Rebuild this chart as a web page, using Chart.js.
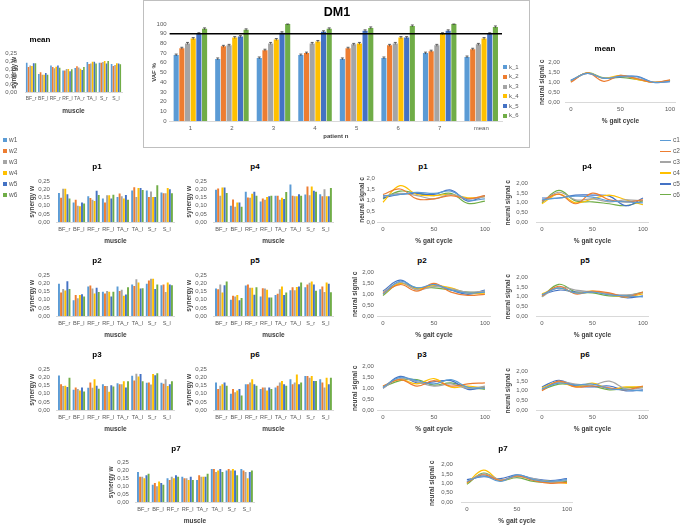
<!DOCTYPE html>
<html><head><meta charset="utf-8">
<script src="https://cdn.jsdelivr.net/npm/chart.js@4.4.0/dist/chart.umd.min.js"></script>
<style>
body{margin:0;width:685px;height:526px;background:#fff;position:relative;overflow:hidden;font-family:'Liberation Sans',Arial,sans-serif;}
canvas{position:absolute;}
.t{position:absolute;transform:translate(-50%,-50%);font-weight:bold;font-size:8px;color:#000;white-space:nowrap;}
.lg{position:absolute;font-size:6.5px;color:#595959;white-space:nowrap;line-height:8px;transform:translateY(-50%);}
.sq{display:inline-block;width:4px;height:4px;margin-right:2px;vertical-align:middle;}
.ln{display:inline-block;width:11px;height:1.3px;margin-right:2px;vertical-align:middle;}
#box{position:absolute;left:143px;top:0;width:385px;height:146px;border:1px solid #bfbfbf;}
</style></head><body>
<div id="box"></div>
<script>
// ---------- DATA ----------
const PATIENTS = ['1','2','3','4','5','6','7','mean'];
const K_LABELS = ['k_1','k_2','k_3','k_4','k_5','k_6'];
const VAF_K1 = [68,64,65,68,64,65,70,66];
const VAF_K2 = [75,77,73,70,75,78,72,74];
const VAF_K3 = [80,78,80,80,79,80,78,79];
const VAF_K4 = [85,86,84,82,80,86,90,85];
const VAF_K5 = [90,87,91,92,93,86,93,90];
const VAF_K6 = [95,94,100,95,96,98,100,97];
const VAF_ERR = [1,1,1,1,1,1,1,1];
const THRESHOLD = 90;

const MUSCLES = ['BF_r','BF_l','RF_r','RF_l','TA_r','TA_l','S_r','S_l'];
const W_LABELS = ['w1','w2','w3','w4','w5','w6'];
// rows = muscles, columns = w1..w6
const MEAN_W = [[0.190,0.162,0.172,0.170,0.187,0.187],[0.117,0.129,0.113,0.113,0.123,0.113],[0.172,0.163,0.155,0.165,0.172,0.158],[0.140,0.140,0.150,0.150,0.135,0.148],[0.157,0.167,0.160,0.152,0.143,0.162],[0.195,0.182,0.185,0.197,0.197,0.185],[0.190,0.190,0.195,0.202,0.185,0.202],[0.182,0.170,0.175,0.187,0.185,0.180]];
const P1_W = [[0.180,0.150,0.205,0.205,0.172,0.145],[0.120,0.138,0.100,0.097,0.120,0.115],[0.160,0.148,0.137,0.130,0.193,0.167],[0.145,0.120,0.165,0.165,0.145,0.168],[0.155,0.177,0.160,0.145,0.167,0.138],[0.195,0.215,0.155,0.210,0.210,0.198],[0.195,0.155,0.188,0.155,0.155,0.228],[0.183,0.178,0.178,0.210,0.202,0.178]];
const P4_W = [[0.200,0.208,0.163,0.213,0.213,0.180],[0.100,0.140,0.095,0.120,0.120,0.095],[0.187,0.152,0.150,0.175,0.187,0.162],[0.127,0.145,0.137,0.155,0.160,0.163],[0.162,0.162,0.137,0.150,0.142,0.185],[0.232,0.162,0.160,0.160,0.172,0.162],[0.170,0.220,0.165,0.220,0.193,0.187],[0.172,0.160,0.203,0.160,0.160,0.210]];
const P2_W = [[0.200,0.145,0.167,0.158,0.215,0.167],[0.097,0.130,0.110,0.130,0.135,0.120],[0.183,0.188,0.170,0.140,0.175,0.148],[0.150,0.140,0.155,0.150,0.120,0.150],[0.183,0.155,0.163,0.125,0.133,0.178],[0.195,0.185,0.228,0.208,0.170,0.172],[0.200,0.220,0.230,0.230,0.167,0.195],[0.190,0.195,0.148,0.208,0.195,0.190]];
const P5_W = [[0.170,0.165,0.195,0.145,0.190,0.213],[0.100,0.125,0.120,0.130,0.097,0.112],[0.188,0.195,0.175,0.175,0.132,0.178],[0.120,0.172,0.170,0.163,0.115,0.115],[0.130,0.138,0.165,0.183,0.130,0.145],[0.160,0.178,0.160,0.180,0.183,0.208],[0.178,0.195,0.205,0.213,0.195,0.157],[0.165,0.182,0.148,0.207,0.200,0.147]];
const P3_W = [[0.213,0.160,0.148,0.150,0.142,0.200],[0.125,0.140,0.130,0.120,0.140,0.115],[0.137,0.170,0.137,0.190,0.150,0.132],[0.160,0.148,0.148,0.113,0.153,0.145],[0.165,0.160,0.160,0.178,0.140,0.178],[0.212,0.183,0.225,0.208,0.222,0.178],[0.168,0.170,0.158,0.222,0.215,0.228],[0.168,0.162,0.190,0.148,0.160,0.178]];
const P6_W = [[0.170,0.130,0.150,0.160,0.170,0.150],[0.100,0.130,0.110,0.120,0.130,0.090],[0.160,0.160,0.170,0.190,0.160,0.150],[0.130,0.140,0.140,0.120,0.140,0.130],[0.140,0.150,0.170,0.180,0.160,0.150],[0.190,0.160,0.170,0.220,0.160,0.170],[0.210,0.210,0.200,0.210,0.180,0.180],[0.190,0.170,0.140,0.200,0.160,0.200]];
const P7_W = [[0.190,0.160,0.160,0.150,0.170,0.180],[0.110,0.120,0.100,0.130,0.120,0.110],[0.150,0.140,0.160,0.150,0.170,0.160],[0.160,0.150,0.150,0.140,0.160,0.140],[0.140,0.170,0.160,0.160,0.160,0.180],[0.210,0.210,0.190,0.200,0.210,0.190],[0.200,0.210,0.200,0.210,0.200,0.170],[0.210,0.200,0.190,0.150,0.190,0.200]];

const GAIT_X = [0,16.7,33.3,50,66.7,83.3,100];
const GAIT_TICKS = [0,50,100];
const C_LABELS = ['c1','c2','c3','c4','c5','c6'];
// rows = c1..c6, values along GAIT_X
const MEAN_C = [[1.10,1.45,1.20,1.30,1.28,1.00,1.05],[1.00,1.48,1.05,1.35,1.18,1.00,1.12],[1.05,1.45,1.20,1.30,1.20,1.00,1.08],[1.05,1.48,1.20,1.35,1.15,1.00,1.08],[1.10,1.45,1.20,1.28,1.30,1.00,1.03],[1.05,1.48,1.22,1.25,1.15,1.00,1.10]];
const P1_C = [[1.20,1.25,1.35,1.30,1.40,1.00,1.05],[1.25,1.50,1.05,1.05,1.20,1.05,1.20],[1.15,1.30,1.20,1.05,1.25,1.05,1.15],[0.90,1.65,1.25,1.20,1.25,1.10,1.15],[1.10,1.25,1.30,1.25,1.45,0.95,1.20],[1.05,1.40,1.30,1.20,1.30,0.85,0.95]];
const P4_C = [[1.15,1.25,1.35,1.30,1.10,1.05,1.00],[1.10,1.45,0.95,1.50,1.15,1.05,1.15],[1.05,1.55,1.15,1.20,1.05,1.15,1.10],[0.95,1.45,1.00,1.20,1.40,1.15,0.90],[1.25,1.25,1.40,1.40,1.35,0.85,1.25],[1.00,1.65,1.10,1.05,0.95,0.85,1.10]];
const P2_C = [[1.00,1.60,1.30,1.45,1.20,1.05,1.10],[1.05,1.45,1.15,1.50,1.10,0.95,1.00],[1.10,1.55,1.20,1.35,1.25,1.10,1.15],[1.00,1.50,1.25,1.40,1.30,1.05,1.05],[1.15,1.65,1.25,1.45,1.20,1.00,1.20],[0.95,1.50,1.30,1.30,1.20,1.10,1.10]];
const P5_C = [[1.10,1.45,1.20,1.25,1.10,1.05,1.00],[1.05,1.55,1.15,1.30,1.20,1.00,1.25],[1.00,1.50,1.35,1.25,1.15,1.10,1.20],[1.15,1.45,1.20,1.30,1.10,1.00,1.15],[1.10,1.35,1.25,1.25,1.15,0.95,1.05],[1.00,1.65,1.25,1.20,1.05,1.05,1.25]];
const P3_C = [[1.05,1.50,1.35,1.20,1.40,1.05,1.00],[1.10,1.40,1.10,1.35,1.10,1.20,1.25],[1.00,1.45,1.30,1.10,1.20,1.00,1.10],[1.10,1.40,1.20,1.45,1.05,1.10,1.00],[1.00,1.55,1.25,1.30,1.35,0.95,1.05],[1.05,1.35,1.40,1.15,1.25,1.05,0.95]];
const P6_C = [[1.10,1.40,1.30,1.35,1.10,1.05,1.00],[1.00,1.50,1.20,1.25,1.15,1.05,1.25],[1.05,1.45,1.35,1.30,1.50,1.10,1.15],[1.15,1.45,1.20,1.40,1.10,1.20,1.20],[1.20,1.55,1.25,1.20,1.25,1.00,1.05],[1.05,1.35,1.30,1.25,1.05,1.15,1.20]];
const P7_C = [[1.10,1.40,1.10,1.45,1.20,1.10,1.20],[1.05,1.45,1.15,1.40,1.15,1.00,1.05],[1.05,1.50,1.20,1.35,1.25,1.05,1.15],[1.00,1.70,1.15,1.40,1.20,1.10,1.00],[1.20,1.35,1.25,1.45,1.25,1.15,1.25],[0.95,1.55,1.15,1.30,1.10,1.05,1.10]];

// ---------- STYLE ----------
const COLORS = ['#5B9BD5','#ED7D31','#A5A5A5','#FFC000','#4472C4','#70AD47'];
const FONT = "'Liberation Sans', Arial, sans-serif";
Chart.defaults.font.family = FONT;
Chart.defaults.color = '#595959';
const TICK = 6, AXT = 6.5, LH = 1.2;

function fmt(v,d){ return Number(v).toFixed(d).replace('.',','); }
function addText(txt,x,y,size){ const d=document.createElement('div'); d.className='t'; d.textContent=txt; d.style.left=x+'px'; d.style.top=y+'px'; if(size) d.style.fontSize=size+'px'; document.body.appendChild(d); }
function makeCanvas(r,m){
  const c=document.createElement('canvas');
  const w=Math.round(r.r-r.l+m.l+m.r), h=Math.round(r.b-r.t+m.t+m.b);
  c.width=w; c.height=h; c.style.width=w+'px'; c.style.height=h+'px';
  c.style.left=(r.l-m.l)+'px'; c.style.top=(r.t-m.t)+'px';
  document.body.appendChild(c); return c;
}
const base = {responsive:false, animation:false, devicePixelRatio:1,
  plugins:{legend:{display:false}, title:{display:false}, tooltip:{enabled:false}}};

function yScale(m, min, max, step, dec, title, pad, ytx, r){
  return {min, max, ticks:{stepSize:step, autoSkip:false, callback:v=>fmt(v,dec), font:{size:TICK}, color:'#595959', padding:pad},
    grid:{display:false, drawTicks:false}, border:{display:false},
    title:{display:true, text:title, font:{size:AXT, weight:'bold'}, color:'#404040', padding:{top:Math.max(0,ytx-(r.l-m.l)-AXT*LH/2), bottom:0}},
    afterFit:s=>{ s.width=m.l; }};
}
function xTitle(text,m){ return {display:true, text, font:{size:AXT, weight:'bold'}, color:'#404040', padding:{top:0,bottom:1.1}}; }

function barChart(cfg){
  const r=cfg.rect, m={l:cfg.ml||(r.l-cfg.ytx+AXT*LH/2), t:7, r:4, b:24};
  const c=makeCanvas(r,m);
  addText(cfg.title, cfg.tx, cfg.ty);
  new Chart(c,{type:'bar',
    data:{labels:MUSCLES, datasets:W_LABELS.map((w,i)=>({label:w, data:cfg.rows.map(row=>row[i]), backgroundColor:COLORS[i], borderWidth:0, barPercentage:0.92, categoryPercentage:0.86}))},
    options:Object.assign({},base,{layout:{padding:{top:m.t,right:m.r,left:0,bottom:0}},
      scales:{
        x:{ticks:{font:{size:cfg.xf||5.6}, color:'#595959', padding:4, maxRotation:0, autoSkip:false},
           grid:{display:false, drawTicks:false}, border:{display:true, color:'#d9d9d9'},
           title:xTitle('muscle',m), afterFit:s=>{ s.height=m.b; }},
        y:yScale(m,0,0.25,0.05,2,'synergy w',cfg.tp||7,cfg.ytx,r)
      }})
  });
}

function lineChart(cfg){
  const r=cfg.rect, m={l:r.l-cfg.ytx+AXT*LH/2, t:7, r:6, b:24};
  const c=makeCanvas(r,m);
  addText(cfg.title, cfg.tx, cfg.ty);
  new Chart(c,{type:'line',
    data:{datasets:C_LABELS.map((n,i)=>({label:n, data:GAIT_X.map((x,j)=>({x, y:cfg.rows[i][j]})), borderColor:COLORS[i], borderWidth:1.2, pointRadius:0, tension:0.4, fill:false}))},
    options:Object.assign({},base,{layout:{padding:{top:m.t,right:m.r,left:0,bottom:0}},
      scales:{
        x:{type:'linear', min:-5, max:105, afterBuildTicks:s=>{ s.ticks=GAIT_TICKS.map(v=>({value:v})); },
           ticks:{font:{size:TICK}, color:'#595959', padding:4, maxRotation:0, autoSkip:false, callback:v=>fmt(v,0)},
           grid:{display:false, drawTicks:false}, border:{display:true, color:'#d9d9d9'},
           title:xTitle('% gait cycle',m), afterFit:s=>{ s.height=m.b; }},
        y:yScale(m,0,2,0.5,cfg.dec||2,'neural signal c',cfg.tp||6,cfg.ytx,r)
      }})
  });
}

// ---------- DM1 ----------
(function(){
  const r={l:170,r:502,t:24,b:120.7};
  const m={l:r.l-155+3.6, t:7, r:2, b:22};
  const c=makeCanvas(r,m);
  addText('DM1',337,12,12.5);
  const vals=[VAF_K1,VAF_K2,VAF_K3,VAF_K4,VAF_K5,VAF_K6];
  const deco={id:'deco', afterDatasetsDraw(ch){
    const ctx=ch.ctx, y=ch.scales.y, a=ch.chartArea;
    ctx.save();
    ctx.strokeStyle='#404040'; ctx.lineWidth=0.8;
    ch.data.datasets.forEach((ds,di)=>{
      ch.getDatasetMeta(di).data.forEach((el,i)=>{
        const v=ds.data[i], e=VAF_ERR[i];
        const y1=y.getPixelForValue(Math.min(100,v+e)), y2=y.getPixelForValue(v-e);
        ctx.beginPath(); ctx.moveTo(el.x,y1); ctx.lineTo(el.x,y2);
        ctx.moveTo(el.x-1.5,y1); ctx.lineTo(el.x+1.5,y1); ctx.stroke();
      });
    });
    const ty=y.getPixelForValue(THRESHOLD);
    ctx.strokeStyle='#000'; ctx.lineWidth=1.6;
    ctx.beginPath(); ctx.moveTo(a.left,ty); ctx.lineTo(a.right,ty); ctx.stroke();
    ctx.restore();
  }};
  new Chart(c,{type:'bar',
    data:{labels:PATIENTS, datasets:K_LABELS.map((k,i)=>({label:k, data:vals[i], backgroundColor:COLORS[i], borderWidth:0, barPercentage:0.9, categoryPercentage:0.82}))},
    options:Object.assign({},base,{layout:{padding:{top:m.t,right:m.r,left:0,bottom:0}},
      scales:{
        x:{ticks:{font:{size:6}, color:'#595959', padding:4, maxRotation:0, autoSkip:false},
           grid:{display:false, drawTicks:false}, border:{display:true, color:'#d9d9d9'},
           title:{display:true, text:'patient n', font:{size:6, weight:'bold'}, color:'#404040', padding:{top:0,bottom:3}},
           afterFit:s=>{ s.height=m.b; }},
        y:{min:0, max:100, ticks:{stepSize:10, autoSkip:false, font:{size:6}, color:'#595959', padding:3},
           grid:{display:false, drawTicks:false}, border:{display:false},
           title:{display:true, text:'VAF %', font:{size:6, weight:'bold'}, color:'#404040', padding:{top:0,bottom:0}},
           afterFit:s=>{ s.width=m.l; }}
      }}), plugins:[deco]});
  K_LABELS.forEach((k,i)=>{
    const d=document.createElement('div'); d.className='lg'; d.style.fontSize='6px';
    d.style.left='503px'; d.style.top=(66.7+i*9.7)+'px';
    d.innerHTML='<span class="sq" style="background:'+COLORS[i]+'"></span>'+k;
    document.body.appendChild(d);
  });
})();

// ---------- BAR CHARTS ----------
barChart({rows:MEAN_W, title:'mean', tx:40, ty:39, rect:{l:25,r:122,t:48.5,b:91}, ytx:14, ml:25, tp:8, xf:5});
barChart({rows:P1_W, title:'p1', tx:97, ty:166, rect:{l:57,r:174,t:177.5,b:221}, ytx:32});
barChart({rows:P4_W, title:'p4', tx:255, ty:166, rect:{l:214,r:333,t:177.5,b:221}, ytx:189});
barChart({rows:P2_W, title:'p2', tx:97, ty:260, rect:{l:57,r:174,t:271.5,b:315}, ytx:32});
barChart({rows:P5_W, title:'p5', tx:255, ty:260, rect:{l:214,r:333,t:271.5,b:315}, ytx:189});
barChart({rows:P3_W, title:'p3', tx:97, ty:354, rect:{l:57,r:174,t:365.5,b:409}, ytx:32});
barChart({rows:P6_W, title:'p6', tx:255, ty:354, rect:{l:214,r:333,t:365.5,b:409}, ytx:189});
barChart({rows:P7_W, title:'p7', tx:176, ty:448, rect:{l:136,r:254,t:459,b:502}, ytx:111});

// ---------- LINE CHARTS ----------
lineChart({rows:MEAN_C, title:'mean', tx:605, ty:48, rect:{l:566,r:675,t:60,b:102}, ytx:542});
lineChart({rows:P1_C, title:'p1', tx:423, ty:166, rect:{l:378,r:490,t:177.5,b:221}, ytx:362, dec:1, tp:3});
lineChart({rows:P4_C, title:'p4', tx:587, ty:166, rect:{l:537,r:648,t:177.5,b:221}, ytx:508, tp:9});
lineChart({rows:P2_C, title:'p2', tx:422, ty:260, rect:{l:378,r:490,t:271.5,b:315}, ytx:355, tp:4});
lineChart({rows:P5_C, title:'p5', tx:585, ty:260, rect:{l:537,r:648,t:271.5,b:315}, ytx:508, tp:9});
lineChart({rows:P3_C, title:'p3', tx:422, ty:354, rect:{l:378,r:490,t:365.5,b:409}, ytx:355, tp:4});
lineChart({rows:P6_C, title:'p6', tx:585, ty:354, rect:{l:537,r:648,t:365.5,b:409}, ytx:508, tp:9});
lineChart({rows:P7_C, title:'p7', tx:503, ty:448, rect:{l:462,r:572,t:459,b:502}, ytx:432, tp:9});

// ---------- SHARED LEGENDS ----------
W_LABELS.forEach((w,i)=>{
  const d=document.createElement('div'); d.className='lg';
  d.style.left='3px'; d.style.top=(140+i*10.9)+'px';
  d.innerHTML='<span class="sq" style="background:'+COLORS[i]+'"></span>'+w;
  document.body.appendChild(d);
});
C_LABELS.forEach((n,i)=>{
  const d=document.createElement('div'); d.className='lg';
  d.style.left='660px'; d.style.top=(140+i*10.9)+'px';
  d.innerHTML='<span class="ln" style="background:'+COLORS[i]+'"></span>'+n;
  document.body.appendChild(d);
});
</script>
</body></html>
